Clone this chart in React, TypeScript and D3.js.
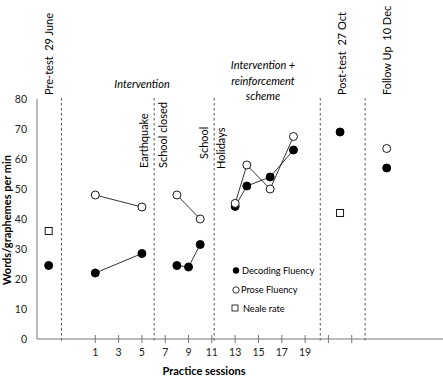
import React from "react";
import * as d3 from "d3";

// Session index of each observation (pre-test at -3, post-test at 22, follow-up at 26)
const decodingSessions = [-3, 1, 5, 8, 9, 10, 13, 14, 16, 18, 22, 26];
const decodingValues = [24.5, 22, 28.5, 24.5, 24, 31.5, 44.2, 51, 54, 63, 69, 57];
const decodingGroups = [0, 1, 1, 2, 2, 2, 3, 3, 3, 3, 4, 5];

const proseSessions = [1, 5, 8, 10, 13, 14, 16, 18, 26];
const proseValues = [48, 44, 48, 40, 45.2, 58, 50, 67.5, 63.5];
const proseGroups = [1, 1, 2, 2, 3, 3, 3, 3, 5];

const nealeSessions = [-3, 22];
const nealeValues = [36, 42];

const phaseBreaks = [-1.9, 6.05, 11.2, 20.3, 24.15];
const xTicks = [1, 3, 5, 7, 9, 11, 13, 15, 17, 19, 21, 23];
const xTickLabels = ["1", "3", "5", "7", "9", "11", "13", "15", "17", "19", "", ""];
const yTicks = [0, 10, 20, 30, 40, 50, 60, 70, 80];

const legendLabels = ["Decoding Fluency", "Prose Fluency", "Neale rate"];

const W = 443;
const H = 380;
const FONT = "Lato, 'Open Sans', sans-serif";
const NB = "\u00A0";

export default function App() {
  const x = d3.scaleLinear().domain([-4, 31]).range([37, 445]);
  const y = d3.scaleLinear().domain([0, 80]).range([339, 99]);

  const line = d3
    .line<[number, number]>()
    .x((d) => x(d[0]))
    .y((d) => y(d[1]));

  const segments = (sessions: number[], values: number[], groups: number[]) => {
    const g = d3.groups(
      sessions.map((s, i) => ({ s, v: values[i], g: groups[i] })),
      (d) => d.g
    );
    return g
      .map(([, pts]) => pts.map((p) => [p.s, p.v] as [number, number]))
      .filter((pts) => pts.length > 1);
  };

  const decSegs = segments(decodingSessions, decodingValues, decodingGroups);
  const proSegs = segments(proseSessions, proseValues, proseGroups);

  const rotLabel = (text: string, bx: number, by: number) => (
    <text
      key={text}
      transform={`translate(${bx},${by}) rotate(-90)`}
      fontSize={11}
      fontFamily={FONT}
      fill="#000"
    >
      {text}
    </text>
  );

  return (
    <svg
      width={W}
      height={H}
      style={{ display: "block", position: "fixed", left: 0, top: 0, background: "#fff" }}
    >
      <rect width={W} height={H} fill="#fff" />

      {/* phase separators */}
      {phaseBreaks.map((b, i) => (
        <line
          key={i}
          x1={x(b)}
          x2={x(b)}
          y1={y(80) - 1}
          y2={y(0) + 2}
          stroke="#555"
          strokeWidth={1}
          strokeDasharray="2.5,2.5"
        />
      ))}

      {/* axes */}
      <line x1={x(-4)} x2={x(-4)} y1={y(80)} y2={y(0)} stroke="#777" strokeWidth={1} />
      <line x1={x(-4)} x2={W} y1={y(0)} y2={y(0)} stroke="#777" strokeWidth={1} />
      {yTicks.map((t) => (
        <text
          key={t}
          x={27}
          y={y(t) + 3.8}
          textAnchor="end"
          fontSize={10.5}
          fontFamily={FONT}
          fill="#222"
        >
          {t}
        </text>
      ))}
      {xTicks.map((t, i) => (
        <g key={t}>
          <line x1={x(t)} x2={x(t)} y1={y(0) - 4} y2={y(0) + 4} stroke="#777" strokeWidth={1} />
          <text
            x={x(t)}
            y={y(0) + 17}
            textAnchor="middle"
            fontSize={10.5}
            fontFamily={FONT}
            fill="#222"
          >
            {xTickLabels[i]}
          </text>
        </g>
      ))}

      <text
        x={204}
        y={375}
        textAnchor="middle"
        fontSize={11}
        fontWeight="bold"
        fontFamily={FONT}
        fill="#000"
      >
        Practice sessions
      </text>
      <text
        transform={`translate(10.5,220) rotate(-90)`}
        textAnchor="middle"
        fontSize={11}
        fontWeight="bold"
        fontFamily={FONT}
        fill="#000"
      >
        Words/graphemes per min
      </text>

      {/* phase annotations */}
      {rotLabel(`Pre-test${NB}${NB}29 June`, x(-3) + 4, 95)}
      {rotLabel(`Post-test${NB}${NB}27 Oct`, x(22) + 6, 95)}
      {rotLabel(`Follow Up${NB}${NB}10 Dec`, x(26) + 4, 95)}
      {rotLabel("Earthquake", 148, 168)}
      {rotLabel("School closed", 167, 168)}
      {rotLabel("School", 208, 159)}
      {rotLabel("Holidays", 225, 169)}

      <text x={142} y={88} textAnchor="middle" fontSize={11} fontStyle="italic" fontFamily={FONT}>
        Intervention
      </text>
      <text textAnchor="middle" fontSize={11} fontStyle="italic" fontFamily={FONT}>
        <tspan x={263} y={69}>Intervention +</tspan>
        <tspan x={263} y={84.5}>reinforcement</tspan>
        <tspan x={263} y={100}>scheme</tspan>
      </text>

      {/* series lines */}
      {decSegs.map((s, i) => (
        <path key={"d" + i} d={line(s) || ""} fill="none" stroke="#000" strokeWidth={0.8} />
      ))}
      {proSegs.map((s, i) => (
        <path key={"p" + i} d={line(s) || ""} fill="none" stroke="#000" strokeWidth={0.8} />
      ))}

      {/* markers */}
      {decodingSessions.map((s, i) => (
        <circle key={"dc" + i} cx={x(s)} cy={y(decodingValues[i])} r={4} fill="#000" stroke="#000" />
      ))}
      {proseSessions.map((s, i) => (
        <circle key={"pc" + i} cx={x(s)} cy={y(proseValues[i])} r={4} fill="#fff" stroke="#000" strokeWidth={0.9} />
      ))}
      {nealeSessions.map((s, i) => (
        <rect
          key={"n" + i}
          x={x(s) - 3.5}
          y={y(nealeValues[i]) - 3.5}
          width={7}
          height={7}
          fill="#fff"
          stroke="#000"
          strokeWidth={0.9}
        />
      ))}

      {/* legend */}
      <g fontFamily={FONT} fontSize={9.2}>
        <circle cx={236} cy={270.5} r={3.2} fill="#000" />
        <text x={242} y={273.8}>{legendLabels[0]}</text>
        <circle cx={236} cy={290} r={3.2} fill="#fff" stroke="#000" strokeWidth={0.8} />
        <text x={241} y={293.3}>{legendLabels[1]}</text>
        <rect x={232} y={305} width={6} height={6} fill="#fff" stroke="#000" strokeWidth={0.8} />
        <text x={243} y={311.6}>{legendLabels[2]}</text>
      </g>
    </svg>
  );
}
